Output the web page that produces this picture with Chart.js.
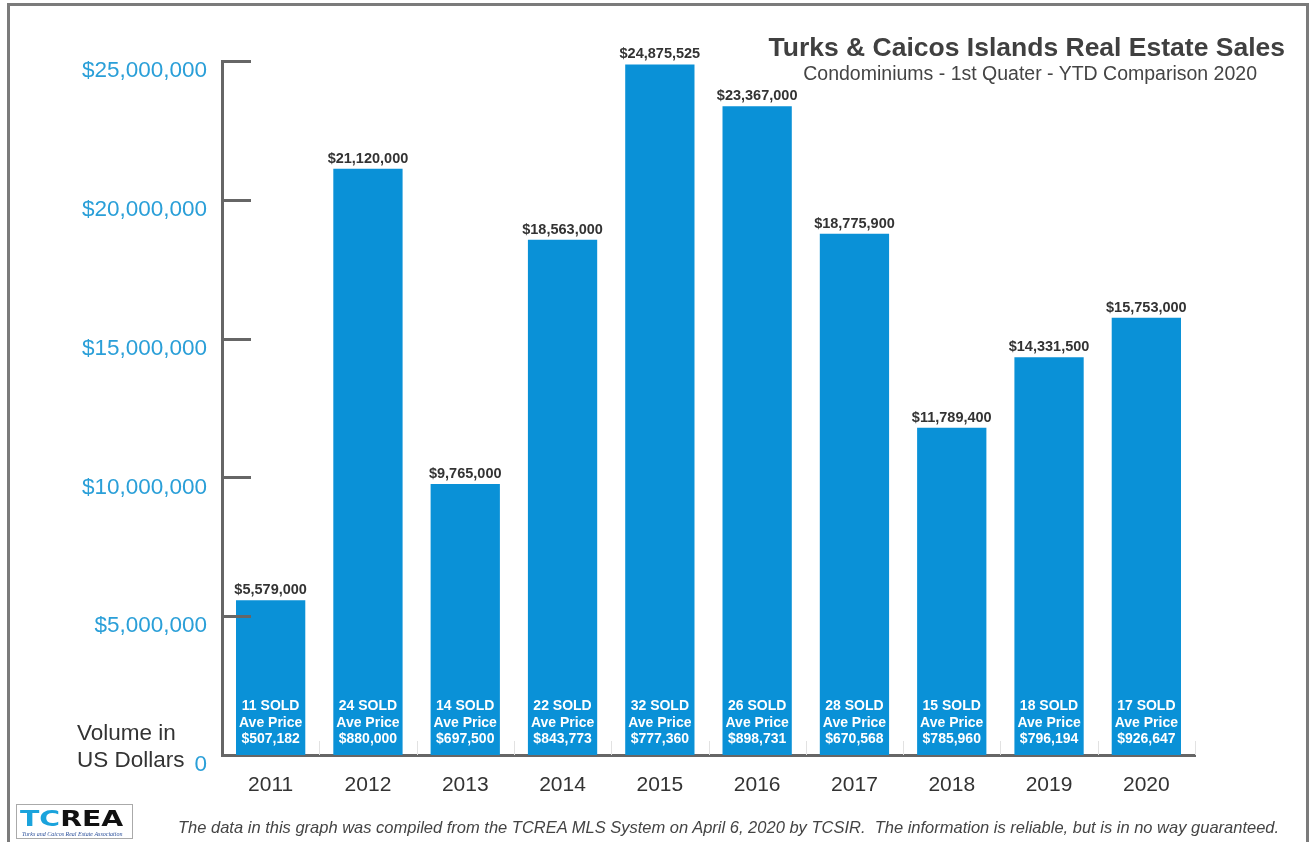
<!DOCTYPE html>
<html>
<head>
<meta charset="utf-8">
<script src="https://cdn.jsdelivr.net/npm/chart.js@4.4.0/dist/chart.umd.min.js"></script>
<style>
  html, body { margin: 0; padding: 0; background: #fff; }
  body { width: 1312px; height: 842px; position: relative; overflow: hidden; font-family: "Liberation Sans", Arial, sans-serif; }
  #frame { position: absolute; left: 7px; top: 3px; width: 1302px; height: 900px; border: 3px solid #7b7b7b; box-sizing: border-box; }
  #chart { position: absolute; left: 0; top: 0; }
  .txt { position: absolute; white-space: pre; line-height: 1; }
  #title { right: 27px; top: 34px; font-size: 26.5px; font-weight: bold; color: #404040; }
  #subtitle { right: 55px; top: 64px; font-size: 19.5px; color: #444; }
  #vol1 { left: 77px; top: 722px; font-size: 22.5px; color: #333; }
  #vol2 { left: 77px; top: 749px; font-size: 22.5px; color: #333; }
  #note { left: 178px; top: 819px; font-size: 16.5px; font-style: italic; color: #444; }
  #logo { position: absolute; left: 16px; top: 804px; width: 117px; height: 35px; border: 1px solid #aaa; box-sizing: border-box; overflow: hidden; }
  #logo .lg { position: absolute; left: 3px; top: 4px; font-family: "DejaVu Sans", sans-serif; font-size: 21px; font-weight: bold; line-height: 1; color: #111; transform: scaleX(1.35); transform-origin: left top; white-space: nowrap; }
  #logo .lgs { position: absolute; left: 5px; top: 26px; font-family: "Liberation Serif", serif; font-size: 6px; font-style: italic; color: #2a4f9a; white-space: nowrap; }
</style>
</head>
<body>
<div id="frame"></div>
<canvas id="chart" width="1312" height="842"></canvas>
<div class="txt" id="title">Turks &amp; Caicos Islands Real Estate Sales</div>
<div class="txt" id="subtitle">Condominiums - 1st Quater - YTD Comparison 2020</div>
<div class="txt" id="vol1">Volume in</div>
<div class="txt" id="vol2">US Dollars</div>
<div id="logo"><div class="lg"><span style="color:#1aa3dc">TC</span>REA</div><div class="lgs">Turks and Caicos Real Estate Association</div></div>
<div class="txt" id="note">The data in this graph was compiled from the TCREA MLS System on April 6, 2020 by TCSIR.  The information is reliable, but is in no way guaranteed.</div>
<script>
const years = ['2011', '2012', '2013', '2014', '2015', '2016', '2017', '2018', '2019', '2020'];
const volumes = [5579000, 21120000, 9765000, 18563000, 24875525, 23367000, 18775900, 11789400, 14331500, 15753000];
const soldCounts = [11, 24, 14, 22, 32, 26, 28, 15, 18, 17];
const avePrices = [507182, 880000, 697500, 843773, 777360, 898731, 670568, 785960, 796194, 926647];
const yTickValues = [0, 5000000, 10000000, 15000000, 20000000, 25000000];

Chart.defaults.font.family = '"Liberation Sans", Arial, sans-serif';

const money = v => '$' + v.toLocaleString('en-US');

// inward tick marks on the y axis + faint separators on the x axis
const axisMarks = {
  id: 'axisMarks',
  afterDraw(chart) {
    const { ctx, chartArea: a, scales: { x, y } } = chart;
    ctx.save();
    ctx.strokeStyle = '#666';
    ctx.lineWidth = 3;
    y.ticks.forEach(t => {
      if (!t.value) return;
      const py = Math.round(y.getPixelForValue(t.value)) + 0.5;
      ctx.beginPath();
      ctx.moveTo(a.left, py);
      ctx.lineTo(a.left + 29, py);
      ctx.stroke();
    });
    const w = x.width / years.length;
    ctx.strokeStyle = '#e2e2e2';
    ctx.lineWidth = 1;
    for (let i = 1; i <= years.length; i++) {
      const px = Math.round(a.left + i * w) + 0.5;
      ctx.beginPath();
      ctx.moveTo(px, a.bottom - 14);
      ctx.lineTo(px, a.bottom);
      ctx.stroke();
    }
    ctx.restore();
  }
};

const barText = {
  id: 'barText',
  afterDatasetsDraw(chart) {
    const ctx = chart.ctx;
    const meta = chart.getDatasetMeta(0);
    ctx.save();
    ctx.textAlign = 'center';
    meta.data.forEach((bar, i) => {
      ctx.font = 'bold 14.5px "Liberation Sans", Arial, sans-serif';
      ctx.fillStyle = '#333';
      ctx.textBaseline = 'alphabetic';
      ctx.fillText(money(volumes[i]), bar.x, bar.y - 6);
      ctx.font = 'bold 14px "Liberation Sans", Arial, sans-serif';
      ctx.fillStyle = '#fff';
      ctx.textBaseline = 'middle';
      ctx.fillText(soldCounts[i] + ' SOLD', bar.x, bar.base - 49);
      ctx.fillText('Ave Price', bar.x, bar.base - 32);
      ctx.fillText(money(avePrices[i]), bar.x, bar.base - 16);
    });
    ctx.restore();
  }
};

new Chart(document.getElementById('chart'), {
  type: 'bar',
  data: {
    labels: years,
    datasets: [{
      data: volumes,
      backgroundColor: '#0a91d7',
      barPercentage: 0.712,
      categoryPercentage: 1
    }]
  },
  options: {
    responsive: false,
    animation: false,
    devicePixelRatio: 1,
    layout: { padding: { left: 0, top: 61, right: 117, bottom: 0 } },
    plugins: { legend: { display: false }, tooltip: { enabled: false } },
    scales: {
      x: {
        z: 1,
        grid: { display: false, drawTicks: false },
        border: { display: true, color: '#666', width: 3 },
        ticks: { color: '#333', font: { size: 21 }, padding: 18 },
        afterFit(s) { s.height = 87; }
      },
      y: {
        z: 1,
        min: 0,
        max: 25000000,
        grid: { display: false, drawTicks: false },
        border: { display: true, color: '#666', width: 3 },
        ticks: {
          color: '#2a9fd8',
          font: { size: 22.5 },
          padding: 15,
          labelOffset: 10,
          callback: v => v === 0 ? '0' : money(v)
        },
        afterBuildTicks(s) { s.ticks = yTickValues.map(v => ({ value: v })); },
        afterFit(s) { s.width = 222; }
      }
    }
  },
  plugins: [axisMarks, barText]
});
</script>
</body>
</html>
